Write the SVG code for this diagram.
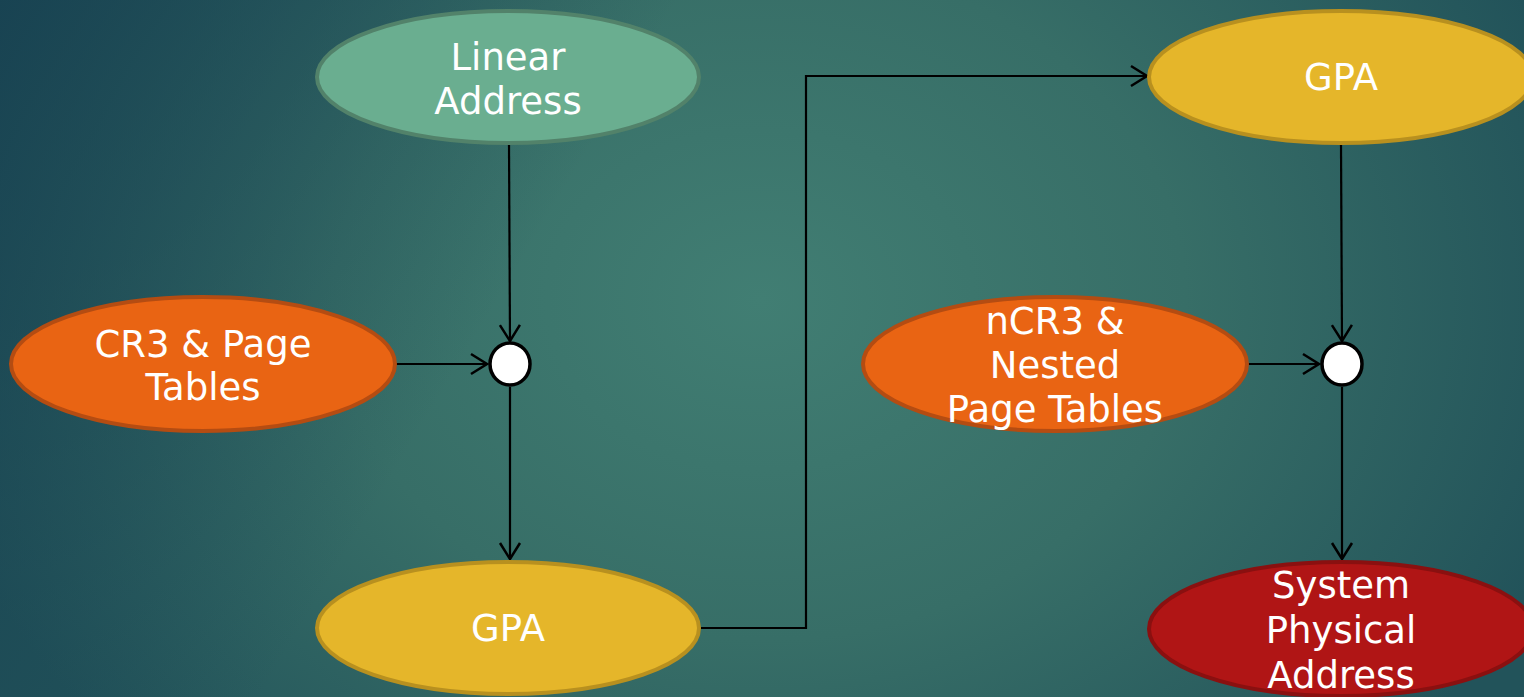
<svg xmlns="http://www.w3.org/2000/svg" width="1524" height="697" viewBox="0 0 1524 697">
<defs>
<radialGradient id="bg" cx="760" cy="300" r="850" gradientUnits="userSpaceOnUse" gradientTransform="translate(760 300) scale(1 0.8) translate(-760 -300)">
<stop offset="0" stop-color="#417e73"/>
<stop offset="0.5" stop-color="#376e67"/>
<stop offset="1" stop-color="#22535a"/>
</radialGradient>
<linearGradient id="tl" x1="0" y1="0" x2="500" y2="300" gradientUnits="userSpaceOnUse">
<stop offset="0" stop-color="#163f50" stop-opacity="0.8"/>
<stop offset="1" stop-color="#163f50" stop-opacity="0"/>
</linearGradient>
<marker id="arr" viewBox="0 0 20 24" refX="18" refY="12" markerWidth="20" markerHeight="24" markerUnits="userSpaceOnUse" orient="auto">
<path d="M2,2 L18,12 L2,22" fill="none" stroke="#000" stroke-width="2.5"/>
</marker>
</defs>
<style>
.lbl{font-family:"DejaVu Sans","Liberation Sans",sans-serif;font-size:37px;fill:#fff;text-anchor:middle}
.green{fill:#6aae90;stroke:#52826a;stroke-width:4}
.orange{fill:#e96413;stroke:#b44c12;stroke-width:4}
.yellow{fill:#e5b62a;stroke:#b8901f;stroke-width:4}
.red{fill:#b01515;stroke:#8a1010;stroke-width:4}
.junc{fill:#fff;stroke:#000;stroke-width:3.5}
.conn{fill:none;stroke:#000;stroke-width:2.2;marker-end:url(#arr)}
</style>
<rect width="1524" height="697" fill="url(#bg)"/>
<rect width="1524" height="697" fill="url(#tl)"/>
<g id="connectors">
<path class="conn" d="M509,145 L510,341"/>
<path class="conn" d="M510,387 L510,559"/>
<path class="conn" d="M396,364 L487,364"/>
<path class="conn" d="M701,628 L806,628 L806,76 L1147,76"/>
<path class="conn" d="M1341,145 L1342,341"/>
<path class="conn" d="M1248,364 L1319,364"/>
<path class="conn" d="M1342,387 L1342,559"/>
</g>
<g id="linear-address">
<ellipse class="green" cx="508" cy="77" rx="191" ry="66"/>
<text class="lbl" x="508" y="70">Linear</text>
<text class="lbl" x="508" y="114">Address</text>
</g>
<g id="cr3">
<ellipse class="orange" cx="203" cy="364" rx="192" ry="67"/>
<text class="lbl" x="203" y="357">CR3 &amp; Page</text>
<text class="lbl" x="203" y="400">Tables</text>
</g>
<g id="junction1">
<ellipse class="junc" cx="510" cy="364" rx="20" ry="21"/>
</g>
<g id="gpa1">
<ellipse class="yellow" cx="508" cy="628" rx="191" ry="66"/>
<text class="lbl" x="508" y="641">GPA</text>
</g>
<g id="gpa2">
<ellipse class="yellow" cx="1341" cy="77" rx="192" ry="66"/>
<text class="lbl" x="1341" y="90">GPA</text>
</g>
<g id="ncr3">
<ellipse class="orange" cx="1055" cy="364" rx="192" ry="67"/>
<text class="lbl" x="1055" y="334">nCR3 &amp;</text>
<text class="lbl" x="1055" y="378">Nested</text>
<text class="lbl" x="1055" y="422">Page Tables</text>
</g>
<g id="junction2">
<ellipse class="junc" cx="1342" cy="364" rx="20" ry="21"/>
</g>
<g id="spa">
<ellipse class="red" cx="1341" cy="629" rx="192" ry="67"/>
<text class="lbl" x="1341" y="598">System</text>
<text class="lbl" x="1341" y="643">Physical</text>
<text class="lbl" x="1341" y="688">Address</text>
</g>
</svg>
